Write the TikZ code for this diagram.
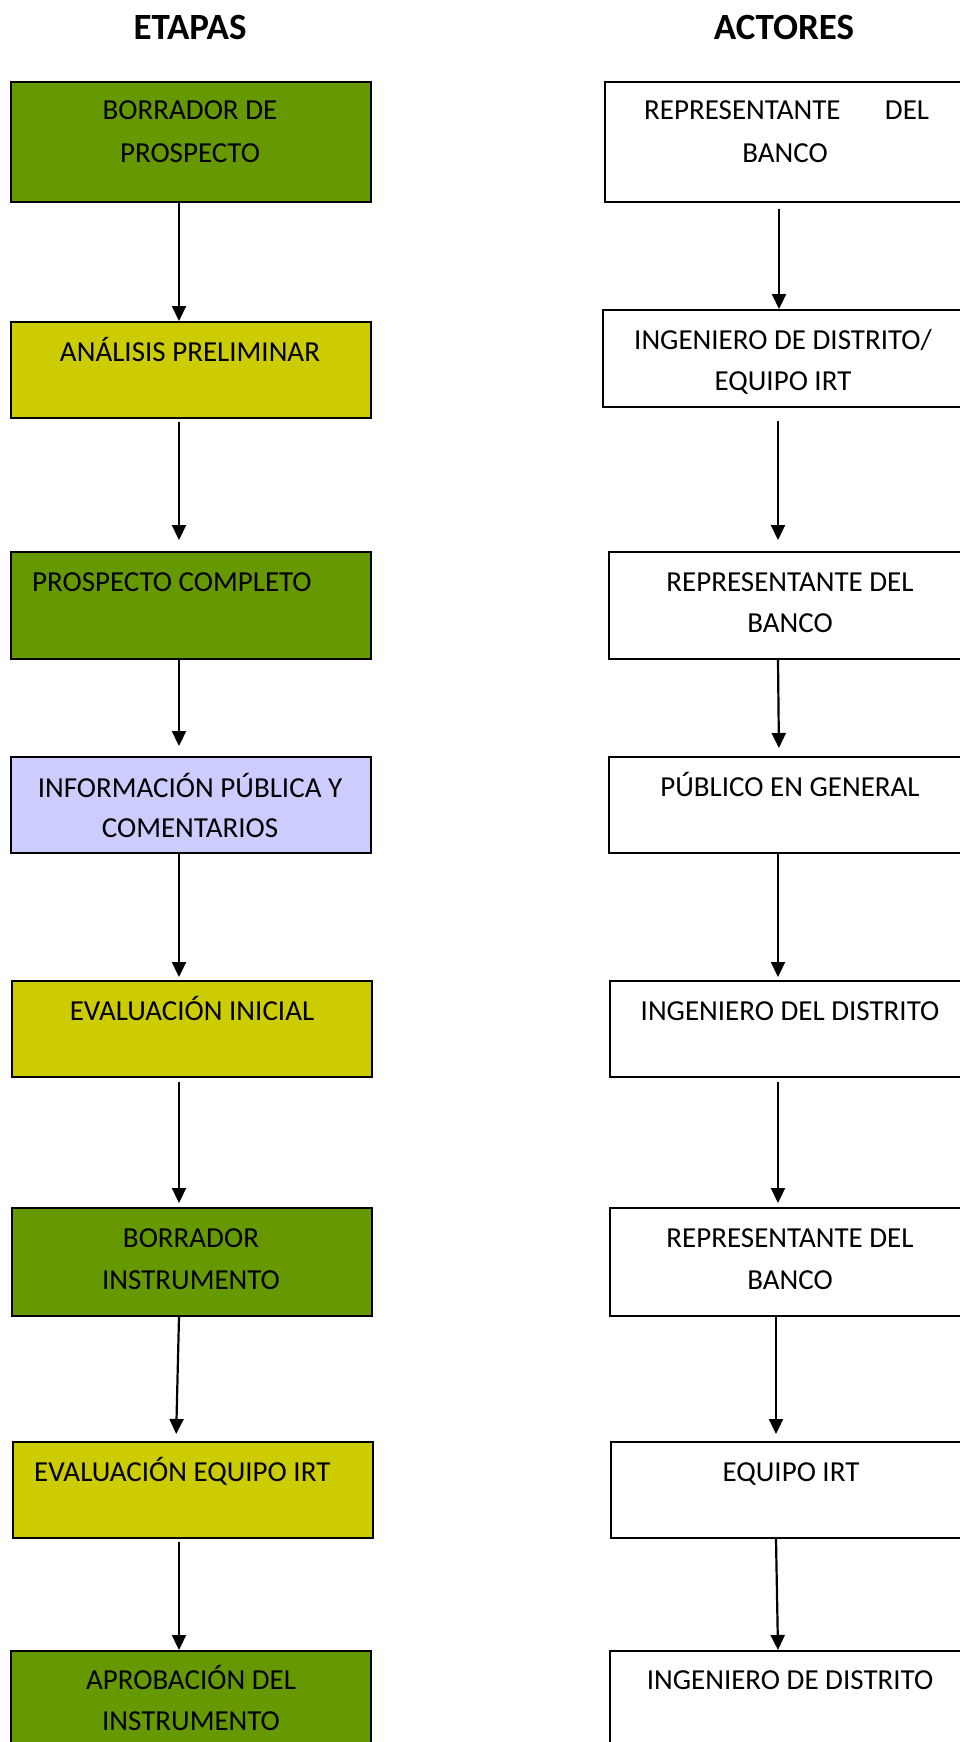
\documentclass[tikz,border=0pt]{standalone}
\usepackage{fontspec}
\setmainfont{Carlito}
\usetikzlibrary{arrows.meta,calc}
\definecolor{dgreen}{RGB}{102,153,0}
\definecolor{ylw}{RGB}{204,204,0}
\definecolor{lav}{RGB}{204,204,255}
\tikzset{
 stagebox/.style={draw=black, line width=2pt, rectangle, inner sep=0pt},
 txt/.style={anchor=base, inner sep=0pt, font=\fontsize{29}{35}\selectfont},
 txtw/.style={txt, anchor=base west},
 ttl/.style={anchor=base, inner sep=0pt, font=\fontsize{37}{44}\selectfont\bfseries},
 arr/.style={line width=2.2pt, -{Triangle[length=15pt,width=14pt]}},
}
\newcommand\bx[6]{\node[stagebox,#6,minimum width={#4-#2},minimum height={#5-#3}] (#1) at ({(#2+#4)/2},{(#3+#5)/2}) {};}
\newcommand\arw[6]{\draw[arr, shorten <=#5pt, shorten >=#6pt] (#1.south -| #3) -- (#2.north -| #4);}
\begin{document}
\begin{tikzpicture}[x=1pt,y=-1pt]
\useasboundingbox (0,0) rectangle (960,1742);
\clip (0,0) rectangle (960,1742);
\coordinate (L179) at (179,0);
\coordinate (L176) at (176,0);
\coordinate (R779) at (779,0);
\coordinate (R778) at (778,0);
\coordinate (R776) at (776,0);

\node[ttl] (tEt) at (190,40) {ETAPAS};
\node[ttl] (tAc) at (784,40) {ACTORES};

% left column
\bx{s1}{11}{82}{371}{202}{fill=dgreen}
\bx{s2}{11}{322}{371}{418}{fill=ylw}
\bx{s3}{11}{552}{371}{659}{fill=dgreen}
\bx{s4}{11}{757}{371}{853}{fill=lav}
\bx{s5}{12}{981}{372}{1077}{fill=ylw}
\bx{s6}{12}{1208}{372}{1316}{fill=dgreen}
\bx{s7}{13}{1442}{373}{1538}{fill=ylw}
\bx{s8}{11}{1651}{371}{1770}{fill=dgreen}

% right column
\bx{a1}{605}{82}{990}{202}{fill=white}
\bx{a2}{603}{310}{990}{407}{fill=white}
\bx{a3}{609}{552}{990}{659}{fill=white}
\bx{a4}{609}{757}{990}{853}{fill=white}
\bx{a5}{610}{981}{990}{1077}{fill=white}
\bx{a6}{610}{1208}{990}{1316}{fill=white}
\bx{a7}{611}{1442}{990}{1538}{fill=white}
\bx{a8}{610}{1651}{990}{1770}{fill=white}

% left texts
\node[txt] (e1a) at (190,120) {BORRADOR DE};
\node[txt] (e1b) at (190,162) {PROSPECTO};
\node[txt] (e2) at (190,361) {ANÁLISIS PRELIMINAR};
\node[txtw] (e3) at (32,591) {PROSPECTO COMPLETO};
\node[txt] (e4a) at (190,797) {INFORMACIÓN PÚBLICA Y};
\node[txt] (e4b) at (190,837) {COMENTARIOS};
\node[txt] (e5) at (192,1020) {EVALUACIÓN INICIAL};
\node[txt] (e6a) at (191,1247) {BORRADOR};
\node[txt] (e6b) at (191,1289) {INSTRUMENTO};
\node[txtw] (e7) at (34,1481) {EVALUACIÓN EQUIPO IRT};
\node[txt] (e8a) at (191,1689) {APROBACIÓN DEL};
\node[txt] (e8b) at (191,1730) {INSTRUMENTO};

% right texts
\node[txtw] (r1a) at (644,120) {\hbox to 285pt{REPRESENTANTE\hfill DEL}};
\node[txt] (r1b) at (785,162) {BANCO};
\node[txt] (r2a) at (783,349) {INGENIERO DE DISTRITO/};
\node[txt] (r2b) at (783,390) {EQUIPO IRT};
\node[txt] (r3a) at (790,591) {REPRESENTANTE DEL};
\node[txt] (r3b) at (790,632) {BANCO};
\node[txt] (r4) at (790,796) {PÚBLICO EN GENERAL};
\node[txt] (r5) at (790,1020) {INGENIERO DEL DISTRITO};
\node[txt] (r6a) at (790,1247) {REPRESENTANTE DEL};
\node[txt] (r6b) at (790,1289) {BANCO};
\node[txt] (r7) at (791,1481) {EQUIPO IRT};
\node[txt] (r8) at (790,1689) {INGENIERO DE DISTRITO};

% left arrows
\arw{s1}{s2}{L179}{L179}{0}{0}
\arw{s2}{s3}{L179}{L179}{3}{11}
\arw{s3}{s4}{L179}{L179}{0}{10}
\arw{s4}{s5}{L179}{L179}{0}{3}
\arw{s5}{s6}{L179}{L179}{4}{4}
\arw{s6}{s7}{L179}{L176}{0}{7}
\arw{s7}{s8}{L179}{L179}{3}{0}

% right arrows
\arw{a1}{a2}{R779}{R779}{6}{0}
\arw{a2}{a3}{R778}{R778}{13}{11}
\arw{a3}{a4}{R778}{R779}{0}{8}
\arw{a4}{a5}{R778}{R778}{0}{3}
\arw{a5}{a6}{R778}{R778}{4}{4}
\arw{a6}{a7}{R776}{R776}{0}{7}
\arw{a7}{a8}{R776}{R778}{0}{0}
\end{tikzpicture}
\end{document}
